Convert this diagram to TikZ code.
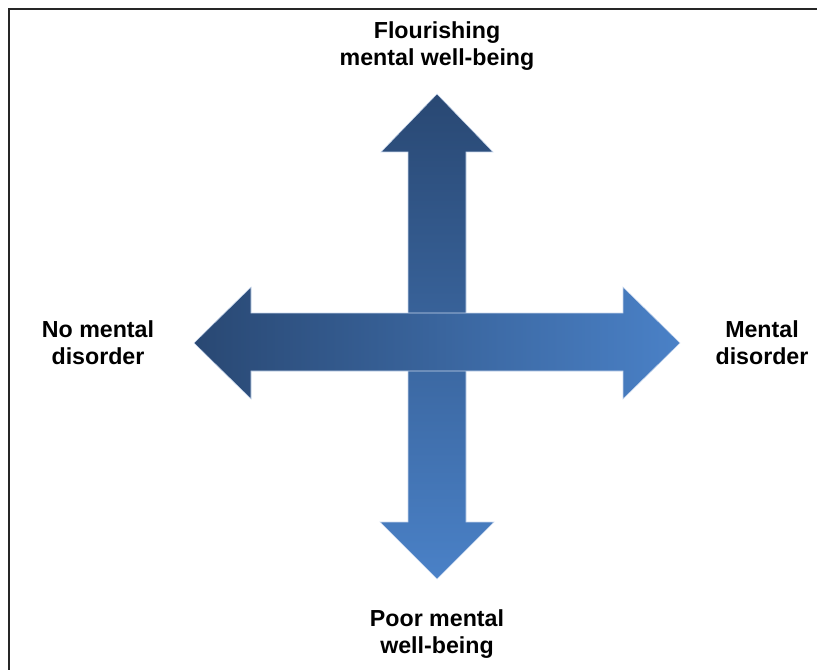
\documentclass[tikz,border=0pt]{standalone}
\usepackage{fontspec}
\setmainfont{Liberation Sans}
\definecolor{arrowdark}{HTML}{294873}
\definecolor{arrowlight}{HTML}{4A81C7}
\definecolor{arrowedge}{HTML}{C9D8EE}
\tikzset {
    frame/.style = {draw = black!85, line width = 2.2pt},
    axis label/.style = {
        align = center,
        font = \fontsize{17.4pt}{20.3pt}\selectfont\bfseries,
        inner sep = 0pt
    },
    vertical arrow/.style = {
        top color = arrowdark,
        bottom color = arrowlight,
        draw = arrowedge,
        line width = 0.4pt
    },
    horizontal arrow/.style = {
        left color = arrowdark,
        right color = arrowlight,
        draw = arrowedge,
        line width = 0.4pt
    }
}
\begin{document}
\begin{tikzpicture}[x = 0.75pt, y = -0.75pt]
            \useasboundingbox (0, 0) rectangle (817, 670);
            % frame
            \draw [frame] (9, 671) -- (9, 9) -- (818, 9);
            % vertical arrow
            \path [vertical arrow]
                (437, 94) -- (493, 152) -- (466, 152) -- (466, 522)
                -- (494, 522) -- (437, 579) -- (380, 522) -- (408, 522)
                -- (408, 152) -- (381, 152) -- cycle;
            % horizontal arrow
            \path [horizontal arrow]
                (194, 343) -- (251, 287) -- (251, 313) -- (623, 313)
                -- (623, 287) -- (680, 343) -- (623, 399) -- (623, 371)
                -- (251, 371) -- (251, 399) -- cycle;
            % labels
            \node (up) [axis label] at (437, 46) {Flourishing\\mental well-being};
            \node (down) [axis label] at (437, 634) {Poor mental\\well-being};
            \node (left) [axis label] at (98, 343) {No mental\\disorder};
            \node (right) [axis label] at (762, 343) {Mental\\disorder};
        \end{tikzpicture}
\end{document}
